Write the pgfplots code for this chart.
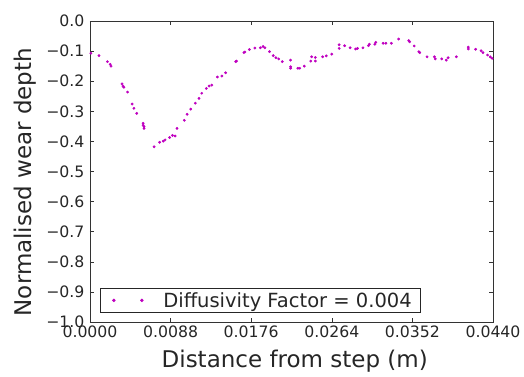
\documentclass[border=0pt]{standalone}
\usepackage{fontspec}
\setmainfont{DejaVu Sans}
\usepackage{pgfplots}
\pgfplotsset{compat=1.18}
\definecolor{mplm}{rgb}{0.75,0,0.75}

\pgfplotstableread{
x y
0.0001 -0.107
0.00098 -0.115
0.0019 -0.135
0.0022 -0.144
0.0023 -0.150
0.0035 -0.209
0.0036 -0.216
0.0037 -0.220
0.0041 -0.236
0.0046 -0.276
0.0048 -0.290
0.0051 -0.307
0.0058 -0.340
0.0058 -0.346
0.0059 -0.351
0.0059 -0.357
0.0070 -0.418
0.0076 -0.403
0.0080 -0.399
0.0082 -0.395
0.0087 -0.387
0.0090 -0.380
0.0093 -0.382
0.0095 -0.357
0.0103 -0.330
0.0106 -0.310
0.0110 -0.293
0.0115 -0.273
0.0119 -0.257
0.0122 -0.240
0.0127 -0.224
0.0130 -0.216
0.0133 -0.213
0.0139 -0.186
0.0144 -0.183
0.0148 -0.172
0.0159 -0.135
0.0160 -0.133
0.0168 -0.105
0.0169 -0.103
0.0174 -0.095
0.0180 -0.090
0.0186 -0.089
0.0189 -0.085
0.0191 -0.089
0.0196 -0.102
0.0200 -0.115
0.0203 -0.122
0.0206 -0.126
0.0210 -0.135
0.0219 -0.130
0.0219 -0.152
0.0219 -0.157
0.0227 -0.157
0.0229 -0.157
0.0234 -0.150
0.0241 -0.133
0.0242 -0.119
0.0246 -0.133
0.0246 -0.121
0.0254 -0.119
0.0258 -0.116
0.0264 -0.110
0.0272 -0.091
0.0272 -0.079
0.0278 -0.082
0.0284 -0.089
0.0290 -0.093
0.0292 -0.091
0.0298 -0.089
0.0304 -0.082
0.0305 -0.077
0.0311 -0.077
0.0312 -0.071
0.0320 -0.074
0.0323 -0.074
0.0329 -0.074
0.0337 -0.060
0.0348 -0.065
0.0349 -0.069
0.0354 -0.083
0.0359 -0.102
0.0360 -0.105
0.0368 -0.119
0.0376 -0.119
0.0377 -0.126
0.0384 -0.126
0.0389 -0.130
0.0391 -0.122
0.0400 -0.119
0.0413 -0.093
0.0413 -0.087
0.0421 -0.094
0.0427 -0.099
0.0429 -0.105
0.0434 -0.113
0.0437 -0.119
0.0439 -0.124
}\weardata

\begin{document}
\begin{tikzpicture}
\begin{axis}[
  name=ax,
  scale only axis,
  width=403pt, height=301pt,
  xmin=0, xmax=0.044, ymin=-1, ymax=0,
  scaled x ticks=false,
  xtick={0,0.0088,0.0176,0.0264,0.0352,0.044},
  xticklabels={0.0000,0.0088,0.0176,0.0264,0.0352,0.0440},
  ytick={-1,-0.9,-0.8,-0.7,-0.6,-0.5,-0.4,-0.3,-0.2,-0.1,0},
  yticklabels={−1.0,−0.9,−0.8,−0.7,−0.6,−0.5,−0.4,−0.3,−0.2,−0.1,0.0},
  tick align=inside,
  major tick length=4pt,
  tick style={black!80, line width=0.6pt},
  axis line style={black!80, line width=0.9pt},
  ticklabel style={font=\fontsize{15.7}{18}\selectfont, text=black!85},
  yticklabel style={xshift=-2pt},
  xlabel={Distance from step (m)},
  ylabel={Normalised wear depth},
  label style={font=\fontsize{23}{27}\selectfont, text=black!85},
  xlabel style={at={(axis description cs:0.508,-0.15)}, anchor=base},
  ylabel style={at={(axis description cs:-0.144,0.465)}, anchor=base},
  legend style={
    at={(axis description cs:0.0248,0.03)}, anchor=south west,
    draw=black!85, line width=0.9pt,
    inner xsep=9pt, inner ysep=4pt,
    font=\fontsize{19.5}{23}\selectfont, text=black!85,
    nodes={inner sep=0pt},
    column sep=0pt,
  },
  legend cell align=left,
]
\addplot[only marks, mark=*, mark size=1.2pt, color=mplm,
  legend image code/.code={
    \path (-4pt,0pt) (49pt,0pt);
    \fill[mplm] (0pt,0pt) circle (1.2pt);
    \fill[mplm] (28pt,0pt) circle (1.2pt);
  }] table[x=x, y=y] {\weardata};
\addlegendentry{Diffusivity Factor = 0.004}
\end{axis}
\path (ax.south west) ++(-90pt,-54pt) rectangle ++(524pt,376pt);
\end{tikzpicture}
\end{document}
